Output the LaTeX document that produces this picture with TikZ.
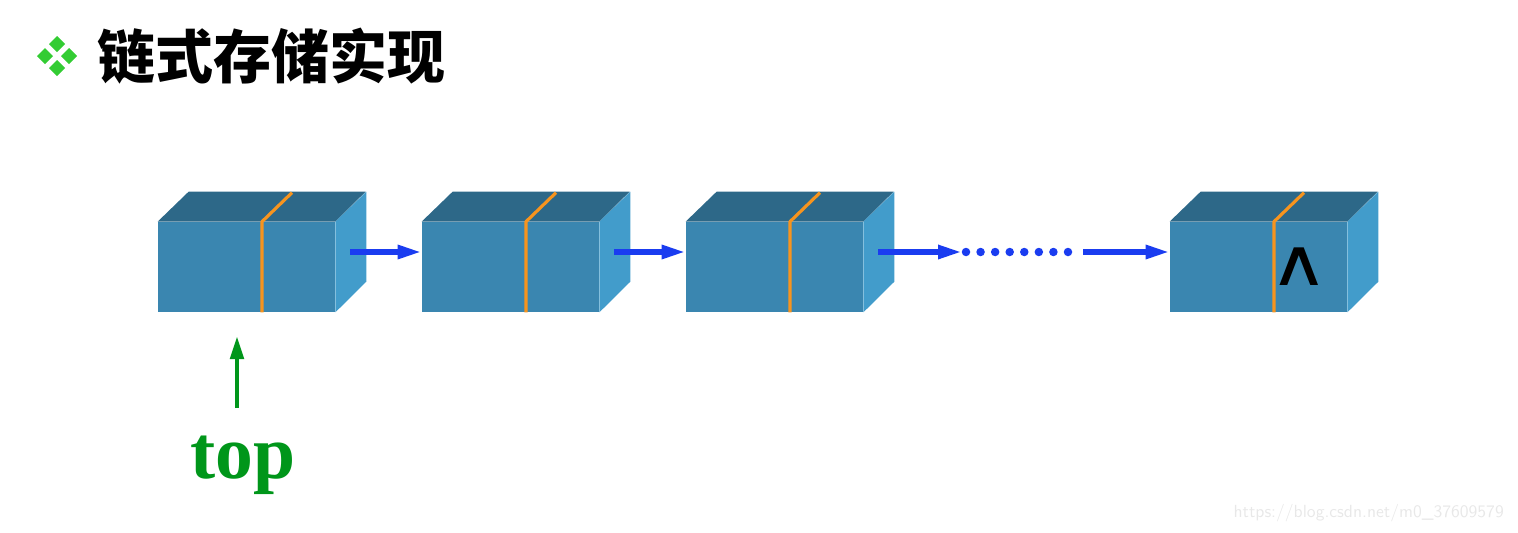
\documentclass[tikz,border=0pt]{standalone}
\usepackage{fontspec}
\setmainfont{Liberation Serif}
\newfontfamily\cjk{Noto Sans CJK SC}
\newfontfamily\symfont{DejaVu Sans}
\usetikzlibrary{positioning,arrows.meta}
\definecolor{frontblue}{RGB}{58,134,176}
\definecolor{topblue}{RGB}{45,104,136}
\definecolor{sideblue}{RGB}{66,156,203}
\definecolor{divorange}{RGB}{247,148,30}
\definecolor{linkblue}{RGB}{26,60,240}
\definecolor{topgreen}{RGB}{0,150,26}
\definecolor{bulletgreen}{RGB}{51,204,51}
\tikzset{
  front/.style={fill=frontblue,minimum width=3.54cm,minimum height=1.8cm,inner sep=0pt},
  topface/.style={fill=topblue},
  sideface/.style={fill=sideblue},
  divider/.style={divorange,line width=1.8pt,line join=round},
  link/.style={linkblue,line width=3.2pt,-{Triangle[length=4.8mm,width=2.6mm]}},
  toparrow/.style={topgreen,line width=2.6pt,-{Triangle[length=4.6mm,width=2.6mm]}},
  bullet/.style={fill=bulletgreen}
}

\begin{document}
\begin{tikzpicture}
  \useasboundingbox (0,0) rectangle (30.36,10.64);
  % title
  \fill[bullet] (1.14,9.92) -- ++(0.16,-0.16) -- ++(-0.16,-0.16) -- ++(-0.16,0.16) -- cycle;
  \fill[bullet] (0.90,9.68) -- ++(0.16,-0.16) -- ++(-0.16,-0.16) -- ++(-0.16,0.16) -- cycle;
  \fill[bullet] (1.38,9.68) -- ++(0.16,-0.16) -- ++(-0.16,-0.16) -- ++(-0.16,0.16) -- cycle;
  \fill[bullet] (1.14,9.44) -- ++(0.16,-0.16) -- ++(-0.16,-0.16) -- ++(-0.16,0.16) -- cycle;
  \node[anchor=west,inner sep=0pt] (title) at (1.94,9.52) {\cjk\bfseries\fontsize{33pt}{36pt}\selectfont 链式存储实现};

  % boxes
  \node[front] (b1) at (4.93,5.3) {};
  \node[front] (b2) at (10.21,5.3) {};
  \node[front] (b3) at (15.49,5.3) {};
  \node[front] (b4) at (25.17,5.3) {};
  \fill[topface] (b1.north west) -- ++(0.62,0.6) -- ++(3.54,0) -- (b1.north east) -- cycle;
  \fill[topface] (b2.north west) -- ++(0.62,0.6) -- ++(3.54,0) -- (b2.north east) -- cycle;
  \fill[topface] (b3.north west) -- ++(0.62,0.6) -- ++(3.54,0) -- (b3.north east) -- cycle;
  \fill[topface] (b4.north west) -- ++(0.62,0.6) -- ++(3.54,0) -- (b4.north east) -- cycle;
  \fill[sideface] (b1.north east) -- ++(0.62,0.6) -- ++(0,-1.8) -- (b1.south east) -- cycle;
  \fill[sideface] (b2.north east) -- ++(0.62,0.6) -- ++(0,-1.8) -- (b2.south east) -- cycle;
  \fill[sideface] (b3.north east) -- ++(0.62,0.6) -- ++(0,-1.8) -- (b3.south east) -- cycle;
  \fill[sideface] (b4.north east) -- ++(0.62,0.6) -- ++(0,-1.8) -- (b4.south east) -- cycle;
  \draw[divider] ([xshift=0.31cm]b1.south) -- ([xshift=0.31cm]b1.north) -- ++(0.6,0.58);
  \draw[divider] ([xshift=0.31cm]b2.south) -- ([xshift=0.31cm]b2.north) -- ++(0.6,0.58);
  \draw[divider] ([xshift=0.31cm]b3.south) -- ([xshift=0.31cm]b3.north) -- ++(0.6,0.58);
  \draw[divider] ([xshift=0.31cm]b4.south) -- ([xshift=0.31cm]b4.north) -- ++(0.6,0.58);
  \node[xscale=1.25] (nil) at (25.98,5.3) {\symfont\fontsize{37pt}{39pt}\selectfont ∧};

  % links
  \coordinate (d1) at (19.32,5.6);
  \coordinate (d2) at (21.66,5.6);
  \draw[link] ([xshift=0.3cm,yshift=0.3cm]b1.east) -- ([yshift=0.3cm]b2.west);
  \draw[link] ([xshift=0.3cm,yshift=0.3cm]b2.east) -- ([yshift=0.3cm]b3.west);
  \draw[link] ([xshift=0.3cm,yshift=0.3cm]b3.east) -- ([xshift=-0.08cm]d1);
  \foreach \i in {0,...,7}
    \fill[linkblue] (19.32+\i*0.2914,5.6) circle (0.085);
  \draw[link] (d2) -- ([yshift=0.3cm]b4.west);

  % top pointer
  \node[anchor=base,topgreen,font=\bfseries\fontsize{43pt}{48pt}\selectfont] (top) at (4.86,1.08) {top};
  \coordinate (ptr) at (4.74,3.92);
  \draw[toparrow] (4.74,2.48) -- (ptr);

  \node[anchor=east,text=black!9,font=\fontsize{10pt}{12pt}\selectfont\sffamily] (mark) at (30.2,0.38) {https://blog.csdn.net/m0\_37609579};
\end{tikzpicture}
\end{document}
